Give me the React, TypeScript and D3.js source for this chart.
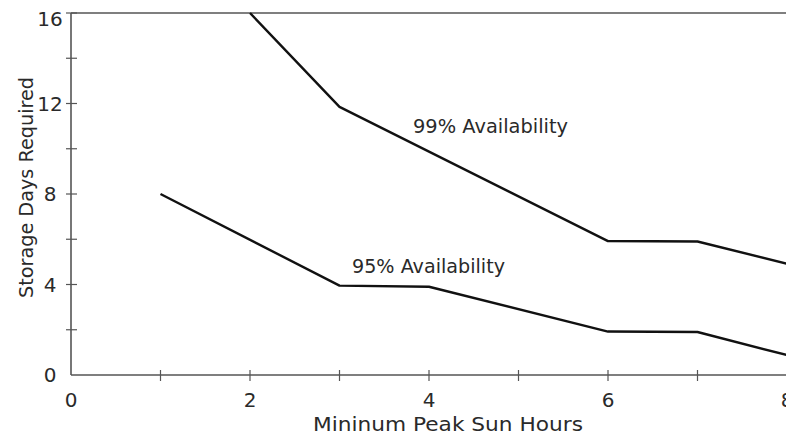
import React from "react";
import * as d3 from "d3";

const hours99 = [2, 3, 6, 7, 8];
const days99 = [16, 11.85, 5.92, 5.9, 4.92];
const hours95 = [1, 3, 4, 6, 7, 8];
const days95 = [8, 3.95, 3.9, 1.92, 1.9, 0.88];
const xTickValues = [0, 1, 2, 3, 4, 5, 6, 7, 8];
const xTickLabels = ["0", "", "2", "", "4", "", "6", "", "8"];
const yTickValues = [0, 2, 4, 6, 8, 10, 12, 14, 16];
const yTickLabels = ["0", "", "4", "", "8", "", "12", "", "16"];
const seriesLabels = ["99% Availability", "95% Availability"];
const xTitle = "Mininum Peak Sun Hours";
const yTitle = "Storage Days Required";

const W = 786;
const H = 435;
const FONT = "'DejaVu Sans', sans-serif";

export default function App() {
  const x = d3.scaleLinear().domain([0, 8]).range([71, 787]);
  const y = d3.scaleLinear().domain([0, 16]).range([375, 13]);
  const line = d3
    .line<[number, number]>()
    .x((d) => x(d[0]))
    .y((d) => y(d[1]));
  const s99 = hours99.map((h, i) => [h, days99[i]] as [number, number]);
  const s95 = hours95.map((h, i) => [h, days95[i]] as [number, number]);
  const axisColor = "#555";
  const textColor = "#2a2a2a";

  return (
    <svg
      width={W}
      height={H}
      style={{ position: "absolute", left: 0, top: 0, background: "#fff" }}
      fontFamily={FONT}
    >
      {/* frame */}
      <line x1={x(0)} x2={W} y1={y(16)} y2={y(16)} stroke={axisColor} strokeWidth={1.6} />
      <line x1={x(0)} x2={x(0)} y1={y(16)} y2={y(0)} stroke={axisColor} strokeWidth={1.6} />
      <line x1={x(0)} x2={W} y1={y(0)} y2={y(0)} stroke={axisColor} strokeWidth={1.6} />

      {/* x ticks */}
      {xTickValues.map((v, i) => (
        <g key={"xt" + i}>
          {v > 0 && (
            <line x1={x(v)} x2={x(v)} y1={y(0) - 5} y2={y(0) + 6} stroke={axisColor} strokeWidth={1.2} />
          )}
          {xTickLabels[i] && (
            <text x={x(v)} y={407} textAnchor="middle" fontSize={20} fill={textColor}>
              {xTickLabels[i]}
            </text>
          )}
        </g>
      ))}

      {/* y ticks */}
      {yTickValues.map((v, i) => (
        <g key={"yt" + i}>
          {v > 0 && (
            <line x1={x(0) - 5} x2={x(0) + 6} y1={y(v)} y2={y(v)} stroke={axisColor} strokeWidth={1.2} />
          )}
          {yTickLabels[i] && (
            <text
              x={50}
              y={Math.max(y(v), 19)}
              dy="0.36em"
              textAnchor="middle"
              fontSize={20}
              fill={textColor}
            >
              {yTickLabels[i]}
            </text>
          )}
        </g>
      ))}

      {/* series */}
      <path d={line(s99) || ""} fill="none" stroke="#111" strokeWidth={2.4} strokeLinejoin="round" />
      <path d={line(s95) || ""} fill="none" stroke="#111" strokeWidth={2.4} strokeLinejoin="round" />

      <text x={413} y={133} fontSize={19.5} fill={textColor} textLength={155} lengthAdjust="spacingAndGlyphs">
        {seriesLabels[0]}
      </text>
      <text x={352} y={273} fontSize={19.5} fill={textColor} textLength={153} lengthAdjust="spacingAndGlyphs">
        {seriesLabels[1]}
      </text>

      {/* axis titles */}
      <text x={448} y={431} textAnchor="middle" fontSize={19.5} fill={textColor} textLength={270} lengthAdjust="spacingAndGlyphs">
        {xTitle}
      </text>
      <text
        transform={`translate(33, ${187.5}) rotate(-90)`}
        textAnchor="middle"
        fontSize={19.5}
        fill={textColor}
        textLength={221}
        lengthAdjust="spacingAndGlyphs"
      >
        {yTitle}
      </text>
    </svg>
  );
}
